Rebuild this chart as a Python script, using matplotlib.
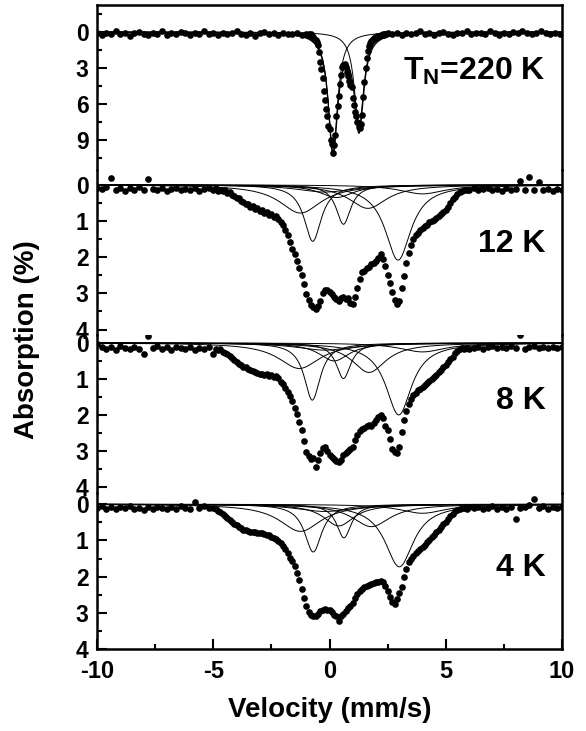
import numpy as np
import matplotlib
matplotlib.use("Agg")
import matplotlib.pyplot as plt
from matplotlib.ticker import MultipleLocator, FixedLocator

plt.rcParams['font.family'] = ['Liberation Sans', 'DejaVu Sans']
plt.rcParams['font.weight'] = 'bold'
plt.rcParams['axes.unicode_minus'] = False

# ---------------- data ----------------
# velocity channels (mm/s)
V_LEFT = np.round(np.arange(-10.0, -5.1, 0.2), 2)
V_MID = np.round(np.arange(-5.0, 6.05, 0.1), 2)
V_RIGHT = np.round(np.arange(6.2, 10.05, 0.2), 2)
V1_LEFT = np.round(np.arange(-10.0, -0.95, 0.2), 2)
V1_MID = np.round(np.arange(-0.9, 2.525, 0.05), 3)
V1_RIGHT = np.round(np.arange(2.7, 10.05, 0.2), 2)

# T_N = 220 K spectrum, absorption (%)
abs_220_left = [0.10, 0.25, 0.05, 0.15, -0.10, 0.20, 0.08, 0.30, 0.12, 0.00,
                0.18, 0.22, 0.05, 0.15, -0.05, 0.25, 0.10, 0.20, 0.02, 0.12,
                0.28, 0.08, 0.15, -0.08, 0.20, 0.10, 0.25, 0.05, 0.18, 0.12,
                -0.10, 0.15, 0.22, 0.08, 0.30, 0.10, 0.02, 0.18, 0.12, 0.25,
                0.05, 0.15, 0.20, 0.10, 0.22, 0.14]
abs_220_mid = [0.15, 0.25, 0.20, 0.35, 0.40, 0.55, 0.65, 0.85, 1.10, 1.70,
               2.50, 3.10, 3.80, 4.90, 5.70, 6.40, 7.00, 7.80, 8.10,
               9.00, 9.30, 10.10, 9.40, 8.60, 7.00, 6.20, 5.30, 4.30, 3.60,
               2.90, 2.75, 2.70, 2.95, 3.30, 3.70, 4.10, 4.40, 4.60, 5.50,
               6.10, 6.70, 7.00, 7.50, 7.90, 8.00, 7.70, 6.90, 5.40, 4.20,
               3.00, 2.20, 1.60, 1.20, 0.90, 0.75, 0.60, 0.55, 0.45, 0.40,
               0.35, 0.38, 0.30, 0.25, 0.28, 0.20, 0.22, 0.15, 0.18, 0.12]
abs_220_right = [0.20, 0.12, 0.25, 0.05, 0.15, 0.10, -0.05, 0.18, 0.08, 0.22,
                 0.12, 0.00, 0.15, 0.25, 0.05, 0.10, -0.10, 0.20, 0.12, 0.08,
                 0.18, -0.05, 0.10, 0.22, 0.05, 0.15, 0.00, 0.12, -0.12, 0.08,
                 0.18, 0.05, -0.08, 0.10, 0.15, 0.05, 0.20]

# 12 K spectrum
abs_12_left = [0.08, 0.12, 0.05, -0.20, 0.14, 0.10, 0.16, 0.09, 0.13, 0.06,
               0.15, -0.17, 0.11, 0.14, 0.10, 0.18, 0.12, 0.09, 0.15, 0.11,
               0.13, 0.08, 0.16, 0.12, 0.10]
abs_12_mid = [0.14, 0.10, 0.16, 0.13, 0.18, 0.15, 0.22, 0.21, 0.28, 0.30,
              0.36, 0.37, 0.45, 0.47, 0.53, 0.52, 0.60, 0.58, 0.66, 0.64,
              0.72, 0.70, 0.77, 0.74, 0.82, 0.80, 0.88, 0.85, 0.95, 1.02,
              1.12, 1.26, 1.40, 1.58, 1.76, 1.92, 2.10, 2.30, 2.48, 2.75,
              3.02, 3.18, 3.32, 3.38, 3.42, 3.36, 3.20, 3.00, 2.92, 2.90,
              2.97, 3.02, 3.10, 3.15, 3.20, 3.14, 3.10, 3.16, 3.12, 3.26,
              3.28, 3.10, 2.86, 2.60, 2.42, 2.38, 2.30, 2.28, 2.20, 2.16,
              2.10, 2.02, 1.92, 2.05, 2.25, 2.48, 2.72, 2.96, 3.18, 3.28,
              3.20, 2.85, 2.52, 2.15, 1.88, 1.66, 1.50, 1.40, 1.32, 1.25,
              1.20, 1.14, 1.10, 1.04, 0.99, 0.96, 0.92, 0.86, 0.80, 0.76,
              0.70, 0.60, 0.50, 0.40, 0.33, 0.26, 0.21, 0.18, 0.15, 0.13,
              0.14]
abs_12_right = [0.10, 0.15, 0.12, 0.08, 0.14, 0.11, 0.16, 0.09, 0.13, 0.12,
                -0.10, 0.13, -0.22, 0.15, -0.08, 0.13, 0.11, 0.16, 0.12, 0.14]

# 8 K spectrum
abs_8_left = [0.02, 0.10, 0.18, 0.12, 0.20, 0.08, 0.14, 0.17, 0.11, 0.16,
              0.30, -0.19, 0.15, 0.09, 0.18, 0.12, 0.21, 0.10, 0.14, 0.16,
              0.11, 0.19, 0.13, 0.17, 0.12]
abs_8_mid = [0.30, 0.16, 0.20, 0.18, 0.25, 0.27, 0.31, 0.36, 0.42, 0.48,
             0.53, 0.58, 0.62, 0.66, 0.68, 0.72, 0.74, 0.78, 0.80, 0.83,
             0.86, 0.85, 0.89, 0.87, 0.92, 0.90, 0.95, 0.93, 0.98, 1.08,
             1.15, 1.25, 1.36, 1.48, 1.62, 1.80, 1.98, 2.20, 2.42, 2.72,
             3.02, 3.15, 3.22, 3.20, 3.45, 3.25, 3.05, 2.92, 2.88, 3.00,
             3.12, 3.18, 3.22, 3.28, 3.30, 3.24, 3.12, 3.05, 3.00, 2.94,
             2.88, 2.70, 2.55, 2.45, 2.40, 2.36, 2.32, 2.28, 2.30, 2.22,
             2.14, 2.06, 2.00, 2.10, 2.30, 2.42, 2.68, 2.95, 3.02, 3.06,
             2.90, 2.48, 2.15, 1.88, 1.70, 1.55, 1.44, 1.38, 1.32, 1.28,
             1.22, 1.16, 1.10, 1.05, 1.00, 0.94, 0.88, 0.82, 0.74, 0.68,
             0.60, 0.52, 0.45, 0.38, 0.28, 0.22, 0.18, 0.15, 0.17, 0.13,
             0.16]
abs_8_right = [0.13, 0.10, 0.16, 0.12, 0.09, 0.15, 0.11, 0.14, 0.08, 0.13,
               -0.22, 0.16, 0.12, 0.09, 0.14, 0.11, 0.15, 0.10, 0.13, 0.12]

# 4 K spectrum
abs_4_left = [0.10, 0.05, 0.12, 0.08, 0.14, 0.09, 0.11, 0.06, 0.13, 0.10,
              0.15, 0.08, 0.12, 0.07, 0.11, 0.14, 0.09, 0.12, 0.06, 0.10,
              0.13, -0.05, 0.11, 0.05, 0.10]
abs_4_mid = [0.10, 0.14, 0.18, 0.22, 0.27, 0.33, 0.38, 0.44, 0.50, 0.55,
             0.58, 0.62, 0.66, 0.70, 0.72, 0.74, 0.76, 0.78, 0.77, 0.79,
             0.80, 0.79, 0.82, 0.84, 0.86, 0.90, 0.93, 0.97, 1.02, 1.08,
             1.16, 1.25, 1.36, 1.48, 1.58, 1.72, 1.90, 2.10, 2.35, 2.58,
             2.80, 2.98, 3.06, 3.10, 3.08, 3.02, 2.95, 2.92, 2.90, 2.93,
             2.92, 2.98, 3.05, 3.10, 3.24, 3.08, 3.02, 2.95, 2.88, 2.80,
             2.72, 2.60, 2.48, 2.40, 2.34, 2.30, 2.26, 2.22, 2.20, 2.18,
             2.16, 2.14, 2.12, 2.15, 2.26, 2.40, 2.56, 2.70, 2.76, 2.62,
             2.45, 2.28, 2.02, 1.78, 1.60, 1.50, 1.42, 1.35, 1.30, 1.24,
             1.18, 1.12, 1.05, 0.98, 0.90, 0.84, 0.78, 0.70, 0.62, 0.56,
             0.48, 0.40, 0.33, 0.26, 0.20, 0.16, 0.13, 0.11, 0.10, 0.12,
             0.09]
abs_4_right = [0.11, 0.08, 0.13, 0.10, 0.06, 0.12, 0.09, 0.14, 0.08, 0.42,
               0.11, 0.07, 0.03, -0.14, 0.10, 0.06, 0.12, 0.09, 0.11, 0.08]

# Lorentzian sub-spectra: centre (mm/s), depth (%), half width (mm/s)
comp_220_center = [0.15, 1.27]
comp_220_depth = [10.0, 8.0]
comp_220_hwhm = [0.24, 0.24]

comp_12_center = [-0.72, 0.60, 2.95, -1.25, 1.65, 0.30, 4.0, -0.2]
comp_12_depth = [1.56, 1.09, 2.08, 0.78, 0.65, 0.35, 0.25, 0.20]
comp_12_hwhm = [0.45, 0.38, 0.68, 1.10, 1.00, 0.90, 1.20, 1.50]

comp_8_center = [-0.74, 0.60, 2.98, -1.30, 1.70, 0.20, 4.0, -0.2]
comp_8_depth = [1.59, 0.99, 2.00, 0.71, 0.82, 0.50, 0.25, 0.20]
comp_8_hwhm = [0.42, 0.38, 0.68, 1.10, 0.90, 0.80, 1.20, 1.50]

comp_4_center = [-0.70, 0.62, 3.00, -1.25, 1.80, 0.40, 4.0, -0.2]
comp_4_depth = [1.32, 0.93, 1.73, 0.75, 0.62, 0.60, 0.25, 0.20]
comp_4_hwhm = [0.45, 0.38, 0.75, 1.10, 1.00, 0.80, 1.20, 1.50]

labels = ["T$_\\mathregular{N}$=220 K", "12 K", "8 K", "4 K"]
yticks_major = [[0, 3, 6, 9], [0, 1, 2, 3, 4], [0, 1, 2, 3, 4], [0, 1, 2, 3, 4]]

# ---------------- assemble ----------------
vel_220 = np.concatenate([V1_LEFT, V1_MID, V1_RIGHT])
abs_220 = np.array(abs_220_left + abs_220_mid + abs_220_right)
vel_std = np.concatenate([V_LEFT, V_MID, V_RIGHT])
abs_12 = np.array(abs_12_left + abs_12_mid + abs_12_right)
abs_8 = np.array(abs_8_left + abs_8_mid + abs_8_right)
abs_4 = np.array(abs_4_left + abs_4_mid + abs_4_right)
assert len(vel_220) == len(abs_220), (len(vel_220), len(abs_220))
for a in (abs_12, abs_8, abs_4):
    assert len(vel_std) == len(a), (len(vel_std), len(a))

panels = [
    (vel_220, abs_220, comp_220_center, comp_220_depth, comp_220_hwhm, True),
    (vel_std, abs_12, comp_12_center, comp_12_depth, comp_12_hwhm, False),
    (vel_std, abs_8, comp_8_center, comp_8_depth, comp_8_hwhm, False),
    (vel_std, abs_4, comp_4_center, comp_4_depth, comp_4_hwhm, False),
]


def lorentz(v, c, d, g):
    return d / (1.0 + ((v - c) / g) ** 2)


W, H = 586, 731
fig = plt.figure(figsize=(W / 100, H / 100), dpi=100)
left, right = 97 / W, 562 / W
# panel pixel extents (top, bottom) and y-limits (bottom value, top value)
extents = [(5, 170), (170, 335), (335, 493), (493, 649)]
ylims = [(11.5, -2.25), (4.15, -0.41), (4.17, -0.22), (4.0, -0.31)]
label_y = [0.60, 0.55, 0.58, 0.52]

vgrid = np.linspace(-10, 10, 1601)
axes = []
for i, (vel, ab, cc, dd, gg, show_total) in enumerate(panels):
    top, bot = extents[i]
    ax = fig.add_axes([left, 1 - bot / H, right - left, (bot - top) / H])
    axes.append(ax)
    total = np.zeros_like(vgrid)
    for c, d, g in zip(cc, dd, gg):
        comp = lorentz(vgrid, c, d, g)
        total += comp
        ax.plot(vgrid, comp, color='black', lw=0.7, zorder=2)
    if show_total:
        ax.plot(vgrid, total, color='black', lw=0.9, zorder=2)
    ax.plot(vel, ab, 'o', color='black', ms=4.8, mew=0, zorder=3)
    ax.set_xlim(-10, 10)
    ax.set_ylim(*ylims[i])
    ax.yaxis.set_major_locator(FixedLocator(yticks_major[i]))
    ax.yaxis.set_minor_locator(MultipleLocator(1.5 if i == 0 else 0.5))
    ax.tick_params(axis='y', which='major', direction='in', length=7, width=1.5,
                   labelsize=16.5, pad=6, right=False)
    ax.tick_params(axis='y', which='minor', direction='in', length=3.5, width=1.5,
                   right=False)
    for s in ax.spines.values():
        s.set_linewidth(1.8)
    if i > 0:
        ax.spines['top'].set_visible(False)
    if i < 3:
        ax.spines['bottom'].set_visible(False)
        ax.tick_params(axis='x', which='both', bottom=False, labelbottom=False)
    else:
        ax.xaxis.set_major_locator(MultipleLocator(5))
        ax.xaxis.set_minor_locator(MultipleLocator(2.5))
        ax.tick_params(axis='x', which='major', direction='in', length=7, width=1.5,
                       labelsize=17, pad=8, top=False)
        ax.tick_params(axis='x', which='minor', direction='in', length=3.5, width=1.5,
                       top=False)
    ax.text(0.965, label_y[i], labels[i], transform=ax.transAxes, ha='right',
            va='center', fontsize=23, fontweight='bold')
    for lab in ax.get_yticklabels() + ax.get_xticklabels():
        lab.set_fontweight('bold')
    ax.patch.set_alpha(0)

fig.text(27 / W, 1 - 340 / H, 'Absorption (%)', rotation=90, ha='center',
         va='center', fontsize=20, fontweight='bold')
fig.text(330 / W, 1 - 710 / H, 'Velocity (mm/s)', ha='center', va='center',
         fontsize=20, fontweight='bold')

fig.savefig('out.png', dpi=100)
